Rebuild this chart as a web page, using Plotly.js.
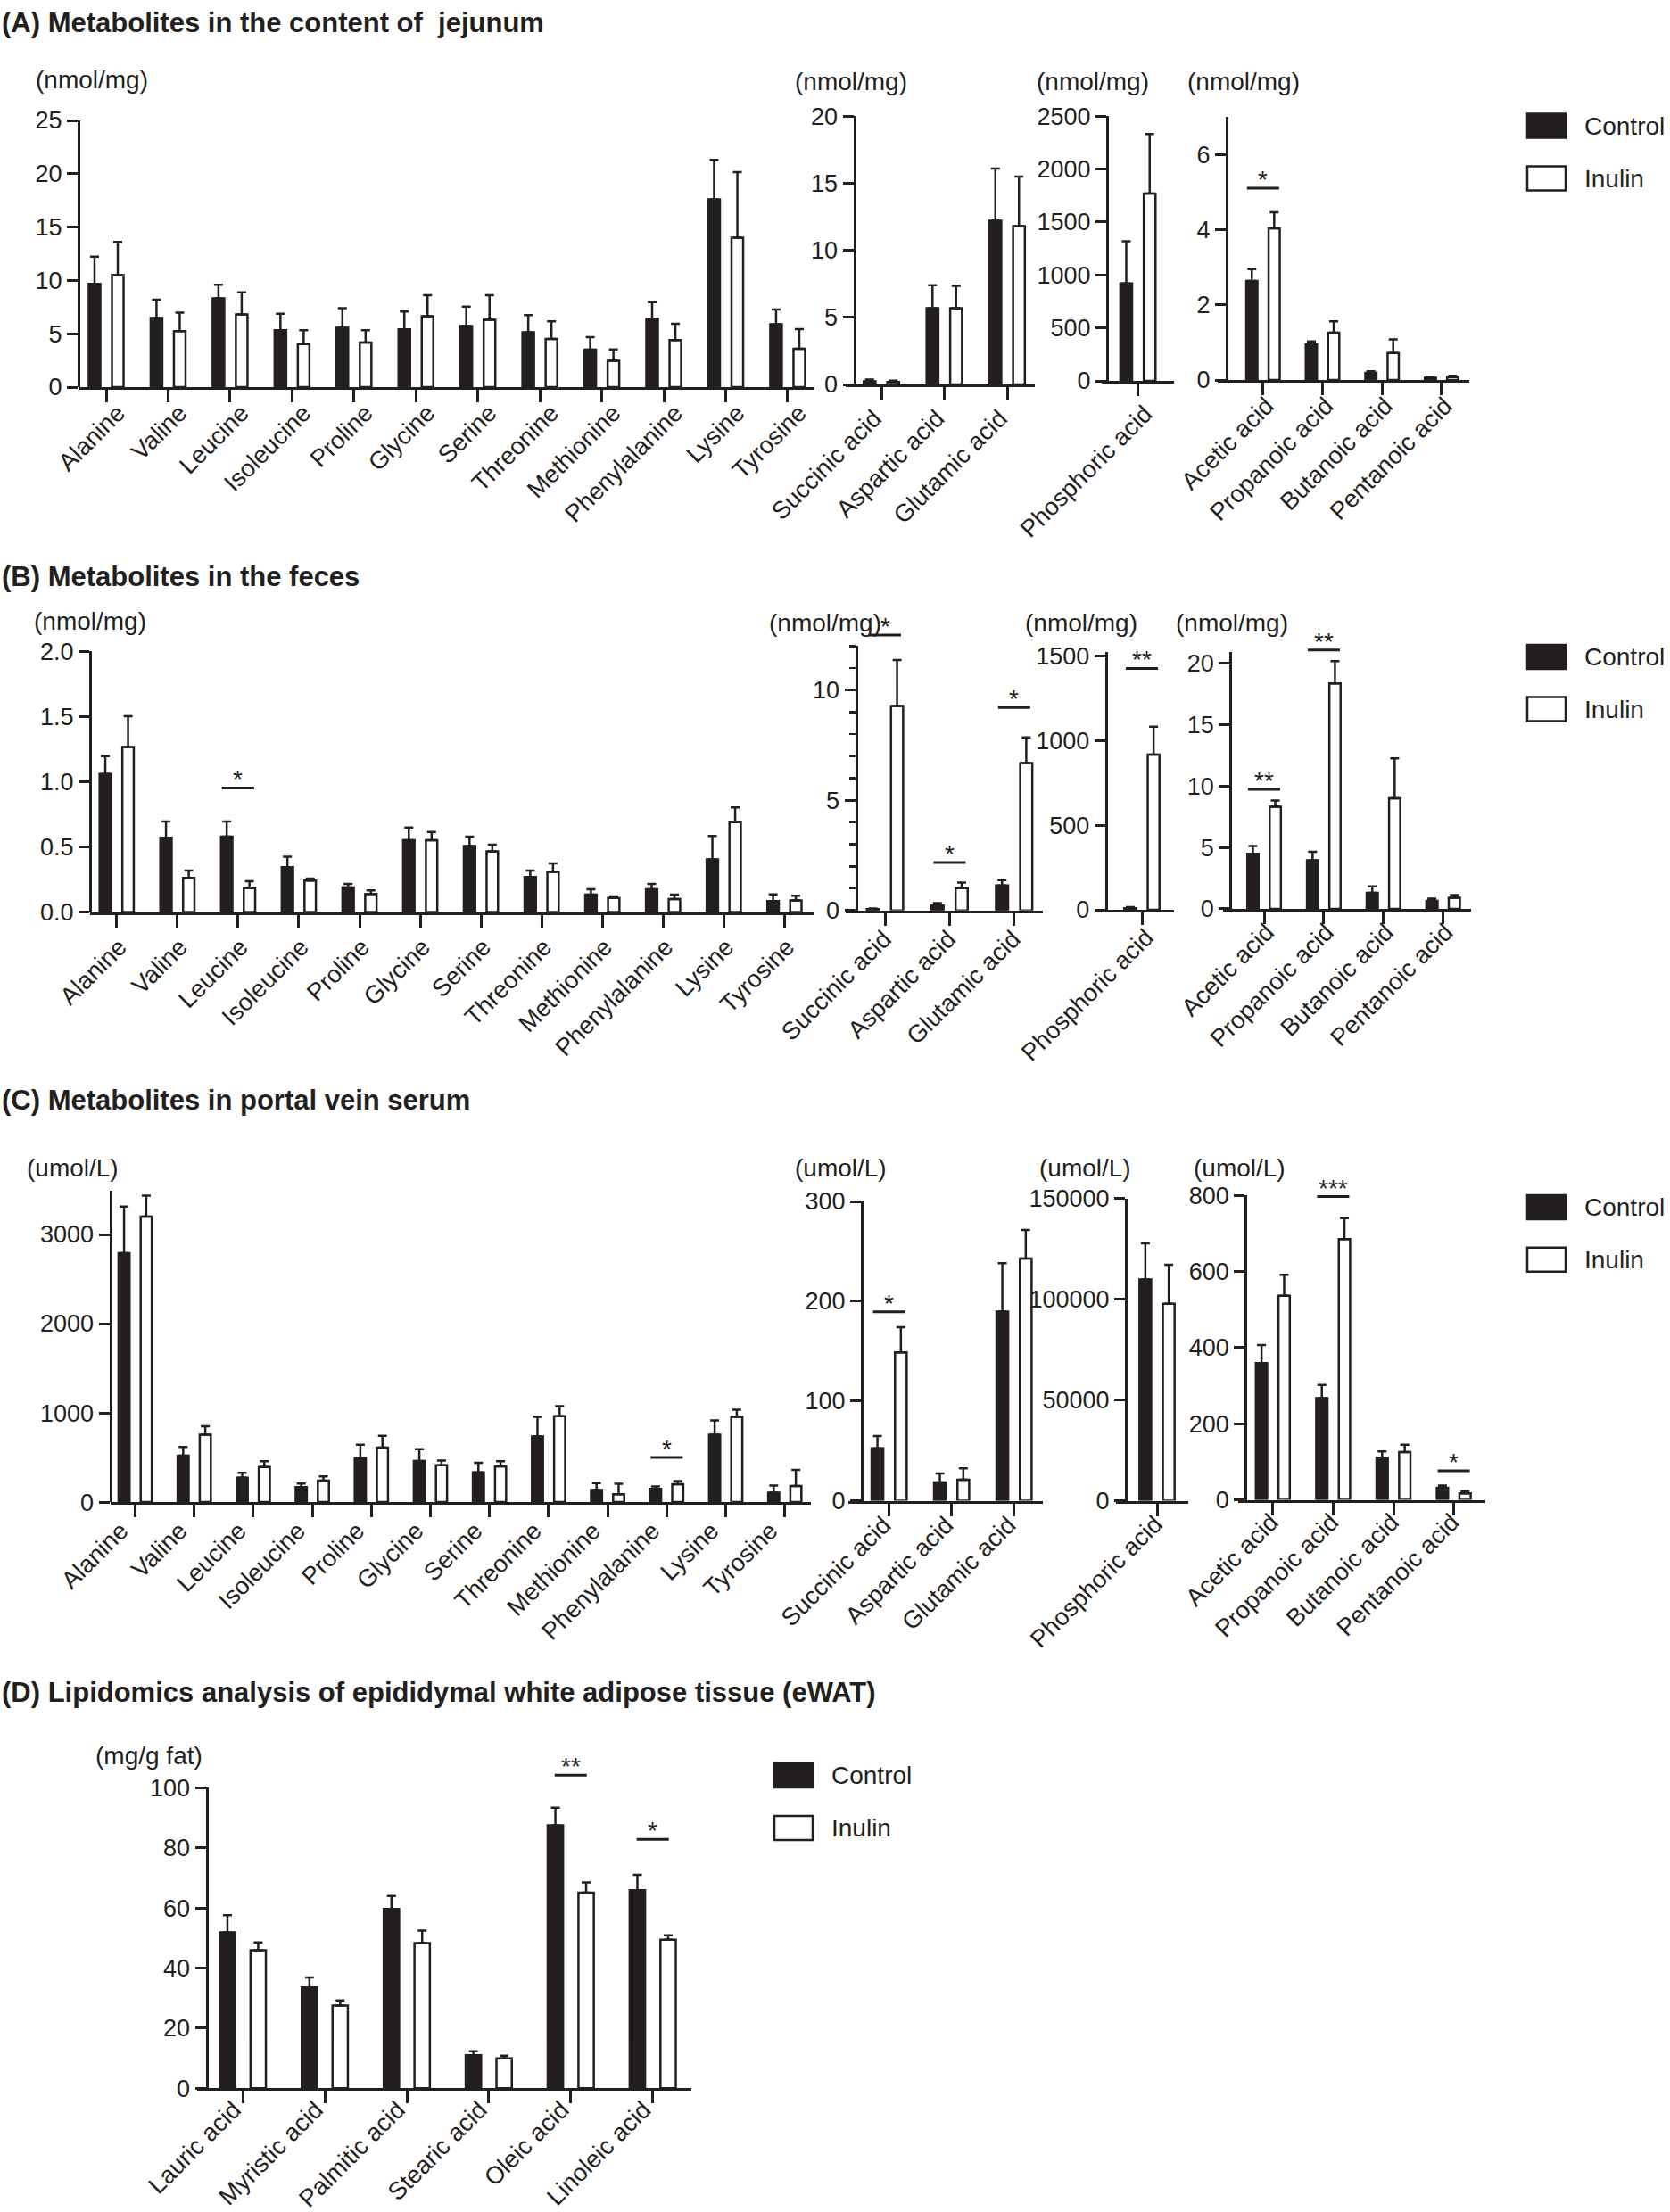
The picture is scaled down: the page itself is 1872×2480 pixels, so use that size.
<!DOCTYPE html>
<html><head><meta charset="utf-8">
<script src="https://cdn.plot.ly/plotly-3.0.1.min.js"></script>
<style>html,body{margin:0;padding:0;background:#fff}</style>
</head><body><div id="chart" style="width:1872px;height:2480px"></div>
<script>
// ---------------- DATA ----------------
const aminoCats = ['Alanine','Valine','Leucine','Isoleucine','Proline','Glycine','Serine','Threonine','Methionine','Phenylalanine','Lysine','Tyrosine'];
const organicCats = ['Succinic acid','Aspartic acid','Glutamic acid'];
const phosCats = ['Phosphoric acid'];
const scfaCats = ['Acetic acid','Propanoic acid','Butanoic acid','Pentanoic acid'];
const fattyCats = ['Lauric acid','Myristic acid','Palmitic acid','Stearic acid','Oleic acid','Linoleic acid'];

// (A) jejunum content, nmol/mg  (mean, and SD shown as upper error bar)
const jejAminoCtrl    = [9.67, 6.49, 8.32, 5.34, 5.57, 5.41, 5.73, 5.14, 3.51, 6.39, 17.6, 5.9];
const jejAminoCtrlErr = [2.55, 1.70, 1.28, 1.54, 1.83, 1.67, 1.81, 1.61, 1.18, 1.57, 3.7, 1.37];
const jejAminoInu     = [10.49, 5.24, 6.82, 4.03, 4.19, 6.65, 6.32, 4.52, 2.46, 4.42, 14.0, 3.6];
const jejAminoInuErr  = [3.11, 1.74, 2.06, 1.31, 1.15, 1.97, 2.30, 1.64, 1.08, 1.51, 6.15, 1.84];
const jejOrgCtrl    = [0.24, 5.69, 12.2];
const jejOrgCtrlErr = [0.12, 1.71, 3.9];
const jejOrgInu     = [0.19, 5.69, 11.8];
const jejOrgInuErr  = [0.09, 1.66, 3.7];
const jejPhosCtrl = [920],  jejPhosCtrlErr = [398];
const jejPhosInu  = [1769], jejPhosInuErr  = [562];
const jejScfaCtrl    = [2.64, 0.95, 0.19, 0.06];
const jejScfaCtrlErr = [0.31, 0.08, 0.04, 0.02];
const jejScfaInu     = [4.04, 1.26, 0.72, 0.08];
const jejScfaInuErr  = [0.43, 0.30, 0.36, 0.03];

// (B) feces, nmol/mg
const fecAminoCtrl    = [1.06, 0.571, 0.579, 0.345, 0.188, 0.551, 0.507, 0.27, 0.134, 0.175, 0.404, 0.085];
const fecAminoCtrlErr = [0.137, 0.124, 0.116, 0.08, 0.028, 0.098, 0.072, 0.049, 0.041, 0.041, 0.18, 0.05];
const fecAminoInu     = [1.266, 0.263, 0.185, 0.242, 0.139, 0.551, 0.466, 0.309, 0.108, 0.1, 0.692, 0.09];
const fecAminoInuErr  = [0.237, 0.056, 0.052, 0.015, 0.028, 0.064, 0.051, 0.064, 0.013, 0.034, 0.111, 0.035];
const fecOrgCtrl    = [0.06, 0.22, 1.13];
const fecOrgCtrlErr = [0.03, 0.11, 0.24];
const fecOrgInu     = [9.28, 1.01, 6.69];
const fecOrgInuErr  = [2.08, 0.25, 1.16];
const fecPhosCtrl = [9.4], fecPhosCtrlErr = [6];
const fecPhosInu  = [917], fecPhosInuErr  = [164];
const fecScfaCtrl    = [4.49, 3.95, 1.3, 0.65];
const fecScfaCtrlErr = [0.63, 0.7, 0.52, 0.18];
const fecScfaInu     = [8.31, 18.36, 9.01, 0.91];
const fecScfaInuErr  = [0.52, 1.82, 3.25, 0.21];

// (C) portal vein serum, umol/L
const pvAminoCtrl    = [2791, 522, 273, 169, 494, 462, 333, 735, 137, 149, 755, 106];
const pvAminoCtrlErr = [522, 96, 56, 40, 149, 132, 109, 221, 76, 28, 161, 80];
const pvAminoInu     = [3201, 755, 394, 241, 610, 414, 402, 964, 88, 201, 956, 180];
const pvAminoInuErr  = [233, 96, 64, 48, 133, 52, 56, 112, 117, 36, 80, 180];
const pvOrgCtrl    = [52.6, 18.5, 189.5];
const pvOrgCtrlErr = [12.4, 8.8, 48.7];
const pvOrgInu     = [148.8, 21.1, 242.8];
const pvOrgInuErr  = [25.1, 11.4, 28.6];
const pvPhosCtrl = [109800], pvPhosCtrlErr = [18000];
const pvPhosInu  = [97800],  pvPhosInuErr  = [19400];
const pvScfaCtrl    = [359.5, 267.5, 109.9, 31.5];
const pvScfaCtrlErr = [46.9, 34.1, 17.1, 6];
const pvScfaInu     = [535.9, 685, 125.2, 17];
const pvScfaInuErr  = [55.4, 55.4, 19.6, 6];

// (D) eWAT lipidomics, mg/g fat
const fatCtrl    = [51.9, 33.5, 59.7, 11.0, 87.5, 65.9];
const fatCtrlErr = [5.7, 3.4, 4.3, 1.3, 5.9, 5.1];
const fatInu     = [45.9, 27.5, 48.3, 9.9, 65.1, 49.4];
const fatInuErr  = [2.6, 1.7, 4.2, 0.9, 3.4, 1.5];

// y tick labels per panel
const yTickSets = {
  A1:[0,5,10,15,20,25], A2:[0,5,10,15,20], A3:[0,500,1000,1500,2000,2500], A4:[0,2,4,6],
  B1:[0,0.5,1,1.5,2], B2:[0,5,10], B3:[0,500,1000,1500], B4:[0,5,10,15,20],
  C1:[0,1000,2000,3000], C2:[0,100,200,300], C3:[0,50000,100000,150000], C4:[0,200,400,600,800],
  D:[0,20,40,60,80,100]
};

// significance brackets: panel, category index, bracket level (data units), label
const sigMarks = [
  {panel:'A4', cat:0, level:5.11, text:'*'},
  {panel:'B1', cat:2, level:0.952, text:'*'},
  {panel:'B2', cat:0, level:12.5, text:'*'},
  {panel:'B2', cat:1, level:2.17, text:'*'},
  {panel:'B2', cat:2, level:9.21, text:'*'},
  {panel:'B3', cat:0, level:1425, text:'**'},
  {panel:'B4', cat:0, level:9.74, text:'**'},
  {panel:'B4', cat:1, level:21.1, text:'**'},
  {panel:'C1', cat:9, level:502, text:'*'},
  {panel:'C2', cat:0, level:189.4, text:'*'},
  {panel:'C4', cat:1, level:796.7, text:'***'},
  {panel:'C4', cat:3, level:76.2, text:'*'},
  {panel:'D',  cat:4, level:104.2, text:'**'},
  {panel:'D',  cat:5, level:82.8, text:'*'}
];

// ---------------- LAYOUT CONFIG ----------------
const W = 1872, H = 2480;
const INK = '#231f20';
const FONT = '"Liberation Sans", Arial, Helvetica, sans-serif';

const panels = [
  {key:'A1', cats:aminoCats, c:jejAminoCtrl, ce:jejAminoCtrlErr, i:jejAminoInu, ie:jejAminoInuErr,
   g:{xl:88, ya:88, xr:913, t0:119, sp:69.45, yb:434, yt:135, yr:[0,25]}, lab:{shift:13, stand:-15}, unit:'(nmol/mg)', ux:38, uy:90},
  {key:'A2', cats:organicCats, c:jejOrgCtrl, ce:jejOrgCtrlErr, i:jejOrgInu, ie:jejOrgInuErr,
   g:{xl:948, ya:957.5, xr:1160, t0:988, sp:70.5, yb:431, yt:130.3, yr:[0,20]}, lab:{shift:-8, stand:-6}, unit:'(nmol/mg)', ux:889, uy:91},
  {key:'A3', cats:phosCats, c:jejPhosCtrl, ce:jejPhosCtrlErr, i:jejPhosInu, ie:jejPhosInuErr,
   g:{xl:1234.6, ya:1241, xr:1316, t0:1275.6, sp:70, yb:427, yt:130.3, yr:[0,2500]}, lab:{shift:8, stand:-7}, unit:'(nmol/mg)', ux:1160, uy:91},
  {key:'A4', cats:scfaCats, c:jejScfaCtrl, ce:jejScfaCtrlErr, i:jejScfaInu, ie:jejScfaInuErr,
   g:{xl:1365, ya:1375, xr:1647, t0:1415.8, sp:66.7, yb:426, yt:131.4, yr:[0,7]}, lab:{shift:4, stand:-15}, unit:'(nmol/mg)', ux:1329, uy:91},

  {key:'B1', cats:aminoCats, c:fecAminoCtrl, ce:fecAminoCtrlErr, i:fecAminoInu, ie:fecAminoInuErr,
   g:{xl:101, ya:101, xr:912, t0:130.8, sp:68.05, yb:1022.6, yt:730.3, yr:[0,2]}, fmt:'.1f', lab:{shift:3, stand:-5}, unit:'(nmol/mg)', ux:36, uy:697},
  {key:'B2', cats:organicCats, c:fecOrgCtrl, ce:fecOrgCtrlErr, i:fecOrgInu, ie:fecOrgInuErr,
   g:{xl:948, ya:959.5, xr:1169, t0:992, sp:72.4, yb:1020.7, yt:724.3, yr:[0,12]}, minor:1, lab:{shift:-1, stand:-12}, unit:'(nmol/mg)', ux:860, uy:698},
  {key:'B3', cats:phosCats, c:fecPhosCtrl, ce:fecPhosCtrlErr, i:fecPhosInu, ie:fecPhosInuErr,
   g:{xl:1234, ya:1239.8, xr:1316, t0:1280, sp:70, yb:1020, yt:731.4, yr:[0,1520]}, lab:{shift:5, stand:-13}, unit:'(nmol/mg)', ux:1147, uy:698},
  {key:'B4', cats:scfaCats, c:fecScfaCtrl, ce:fecScfaCtrlErr, i:fecScfaInu, ie:fecScfaInuErr,
   g:{xl:1371.4, ya:1379.3, xr:1648.5, t0:1417, sp:66.9, yb:1018.9, yt:731.4, yr:[0,20.9]}, lab:{shift:3, stand:-18}, unit:'(nmol/mg)', ux:1316, uy:698},

  {key:'C1', cats:aminoCats, c:pvAminoCtrl, ce:pvAminoCtrlErr, i:pvAminoInu, ie:pvAminoInuErr,
   g:{xl:123.5, ya:123.5, xr:909, t0:151.5, sp:66.2, yb:1684.1, yt:1335.4, yr:[0,3486]}, lab:{shift:-16, stand:-12}, unit:'(umol/L)', ux:28, uy:1309},
  {key:'C2', cats:organicCats, c:pvOrgCtrl, ce:pvOrgCtrlErr, i:pvOrgInu, ie:pvOrgInuErr,
   g:{xl:951, ya:966, xr:1169, t0:996.7, sp:70, yb:1682.6, yt:1347, yr:[0,300]}, lab:{shift:-6, stand:-17}, unit:'(umol/L)', ux:889, uy:1309},
  {key:'C3', cats:phosCats, c:pvPhosCtrl, ce:pvPhosCtrlErr, i:pvPhosInu, ie:pvPhosInuErr,
   g:{xl:1250.9, ya:1262, xr:1332.3, t0:1297, sp:70, yb:1682.6, yt:1343.8, yr:[0,150000]}, lab:{shift:-2, stand:-18}, unit:'(umol/L)', ux:1163, uy:1309},
  {key:'C4', cats:scfaCats, c:pvScfaCtrl, ce:pvScfaCtrlErr, i:pvScfaInu, ie:pvScfaInuErr,
   g:{xl:1387.7, ya:1396.2, xr:1664.8, t0:1426.8, sp:67.6, yb:1681.5, yt:1340.2, yr:[0,800]}, lab:{shift:-2, stand:-19}, unit:'(umol/L)', ux:1336, uy:1309},

  {key:'D', cats:fattyCats, c:fatCtrl, ce:fatCtrlErr, i:fatInu, ie:fatInuErr,
   g:{xl:221, ya:231.5, xr:775, t0:272.2, sp:91.9, yb:2341.2, yt:2004.4, yr:[0,100]}, lab:{shift:-10, stand:-20}, unit:'(mg/g fat)', ux:105, uy:1968}
];

const panelTitles = [
  {text:'(A) Metabolites in the content of  jejunum', y:25},
  {text:'(B) Metabolites in the feces', y:646},
  {text:'(C) Metabolites in portal vein serum', y:1233},
  {text:'(D) Lipidomics analysis of epididymal white adipose tissue (eWAT)', y:1897}
];

const legendSpots = [
  {x:1712, yc:141, yi:200}, {x:1712, yc:736.5, yi:795}, {x:1712, yc:1353.6, yi:1412.2}, {x:868, yc:1990.4, yi:2049.4}
];

const px2x = v => v / W;
const px2y = v => 1 - v / H;

const data = [];
const layout = {
  width: W, height: H, margin: {l:0, r:0, t:0, b:0},
  paper_bgcolor: '#ffffff', plot_bgcolor: 'rgba(0,0,0,0)',
  showlegend: false, barmode: 'group', bargap: 0.25, bargroupgap: 0.5,
  font: {family: FONT, size: 27, color: INK},
  annotations: [], shapes: []
};

const panelIndex = {};
panels.forEach((p, k) => {
  const n = k + 1;
  const sfx = n === 1 ? '' : String(n);
  const xid = 'x' + sfx, yid = 'y' + sfx;
  const g = p.g;
  panelIndex[p.key] = {p, xid, yid};
  layout['xaxis' + sfx] = {
    domain: [px2x(g.xl), px2x(g.xr)], anchor: yid, type: 'category',
    range: [(g.xl - g.t0) / g.sp, (g.xr - g.t0) / g.sp],
    tickmode: 'linear', tick0: 0, dtick: 1,
    showline: true, linecolor: INK, linewidth: 3,
    ticks: 'outside', ticklen: 14, tickwidth: 3, tickcolor: INK,
    tickangle: -45, ticklabelshift: p.lab.shift, ticklabelstandoff: p.lab.stand,
    tickfont: {family: FONT, size: 27.5, color: INK},
    showgrid: false, zeroline: false, fixedrange: true, automargin: false
  };
  const yax = {
    domain: [px2y(g.yb), px2y(g.yt)], anchor: 'free', position: px2x(g.ya),
    range: g.yr, tickmode: 'array', tickvals: yTickSets[p.key],
    tickformat: p.fmt || 'd',
    showline: true, linecolor: INK, linewidth: 3,
    ticks: 'outside', ticklen: 12, tickwidth: 3, tickcolor: INK,
    tickfont: {family: FONT, size: 27, color: INK},
    showgrid: false, zeroline: false, fixedrange: true, automargin: false
  };
  if (p.minor) yax.minor = {dtick: p.minor, tick0: 0, ticks: 'outside', ticklen: 7, tickwidth: 2.5, tickcolor: INK, showgrid: false};
  layout['yaxis' + sfx] = yax;

  const zeros = p.cats.map(() => 0);
  data.push({
    type: 'bar', name: 'Control', x: p.cats, y: p.c, xaxis: xid, yaxis: yid,
    marker: {color: INK, line: {color: INK, width: 2.5}}, cliponaxis: false,
    error_y: {type: 'data', symmetric: false, array: p.ce, arrayminus: zeros, color: INK, thickness: 2.5, width: 5},
    hoverinfo: 'skip'
  });
  data.push({
    type: 'bar', name: 'Inulin', x: p.cats, y: p.i, xaxis: xid, yaxis: yid,
    marker: {color: '#ffffff', line: {color: INK, width: 2.5}}, cliponaxis: false,
    error_y: {type: 'data', symmetric: false, array: p.ie, arrayminus: zeros, color: INK, thickness: 2.5, width: 5},
    hoverinfo: 'skip'
  });

  layout.annotations.push({
    xref: 'paper', yref: 'paper', x: px2x(p.ux), y: px2y(p.uy), xanchor: 'left', yanchor: 'middle',
    text: p.unit, showarrow: false, font: {family: FONT, size: 28, color: INK}
  });
});

// panel titles
panelTitles.forEach(t => {
  layout.annotations.push({
    xref: 'paper', yref: 'paper', x: 0, y: px2y(t.y), xanchor: 'left', yanchor: 'middle',
    text: '<b>' + t.text + '</b>', showarrow: false, font: {family: FONT, size: 31, color: INK}
  });
});

// legends
legendSpots.forEach(L => {
  [['Control', INK, L.yc], ['Inulin', '#ffffff', L.yi]].forEach(([lab, fill, yc]) => {
    layout.shapes.push({type: 'rect', xref: 'paper', yref: 'paper',
      x0: px2x(L.x), x1: px2x(L.x + 43), y0: px2y(yc + 13.5), y1: px2y(yc - 13.5),
      fillcolor: fill, line: {color: INK, width: 2.5}});
    layout.annotations.push({xref: 'paper', yref: 'paper', x: px2x(L.x + 62), y: px2y(yc),
      xanchor: 'left', yanchor: 'middle', text: lab, showarrow: false,
      font: {family: FONT, size: 28, color: INK}});
  });
});

// significance marks
sigMarks.forEach(s => {
  const {p, xid} = panelIndex[s.panel];
  const g = p.g;
  const ypx = g.yb - (s.level - g.yr[0]) / (g.yr[1] - g.yr[0]) * (g.yb - g.yt);
  const hw = 18 / g.sp;
  layout.shapes.push({type: 'line', xref: xid, yref: 'paper',
    x0: s.cat - hw, x1: s.cat + hw, y0: px2y(ypx), y1: px2y(ypx),
    line: {color: INK, width: 3}});
  layout.annotations.push({xref: xid, yref: 'paper', x: s.cat, y: px2y(ypx),
    xanchor: 'center', yanchor: 'bottom', yshift: -8, text: s.text, showarrow: false,
    font: {family: FONT, size: 28, color: INK}});
});

Plotly.newPlot('chart', data, layout, {staticPlot: true, displayModeBar: false});
</script>
</body></html>
